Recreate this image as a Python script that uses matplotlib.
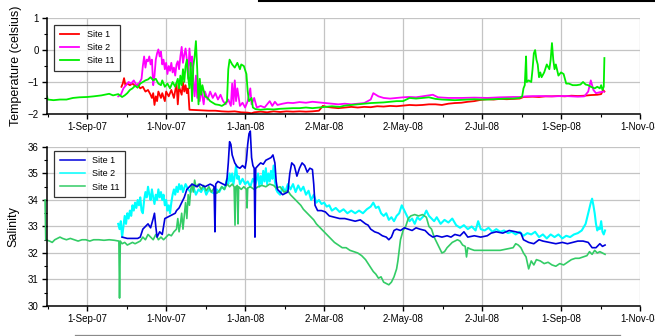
import numpy as np
import pandas as pd
import matplotlib
matplotlib.use("Agg")
import matplotlib.pyplot as plt
import matplotlib.dates as mdates
from matplotlib.lines import Line2D

plt.rcParams["font.family"] = ["Liberation Sans", "DejaVu Sans"]

start = pd.Timestamp("2007-08-01")

# ---- temperature (days since 1-Aug-07, value) ----
t1_day = [57.5, 58.5, 59.5, 60.5, 62, 64, 66, 68, 70, 72, 74, 76, 78, 80, 81, 82, 83, 84, 85, 86,
          88, 89, 91, 92, 94, 96, 98, 100, 101, 102, 104, 105, 106, 107, 108, 109, 110, 115, 120,
          125, 130, 135, 140, 145, 150, 155, 158, 160, 165, 170, 175, 180, 185, 190, 195, 200, 205,
          210, 213, 216, 220, 225, 230, 235, 240, 245, 250, 255, 260, 265, 270, 275, 280, 285, 290,
          295, 300, 305, 310, 315, 320, 325, 330, 335, 340, 345, 350, 355, 360, 365, 368, 375, 380,
          385, 390, 395, 400, 405, 410, 415, 420, 425, 428, 429.5, 430.5]
t1_val = [-1.15, -1.05, -0.88, -1.1, -1.05, -1.1, -1.05, -1.12, -1.08, -1.2, -1.15, -1.3, -1.25,
          -1.4, -1.5, -1.35, -1.72, -1.45, -1.6, -1.3, -1.5, -1.35, -1.6, -1.3, -1.45, -1.25, -1.5,
          -1.05, -1.7, -1.15, -1.4, -1.0, -1.3, -1.1, -1.35, -1.2, -1.87, -1.88, -1.89, -1.9, -1.9,
          -1.92, -1.93, -1.92, -1.95, -1.96, -1.98, -1.95, -1.93, -1.95, -1.92, -1.94, -1.92, -1.93,
          -1.92, -1.93, -1.92, -1.9, -1.75, -1.78, -1.8, -1.82, -1.8, -1.78, -1.8, -1.78, -1.79,
          -1.76, -1.77, -1.75, -1.76, -1.74, -1.72, -1.73, -1.72, -1.7, -1.7, -1.72, -1.68, -1.66,
          -1.65, -1.62, -1.6, -1.56, -1.54, -1.55, -1.53, -1.54, -1.53, -1.52, -1.47, -1.46, -1.47,
          -1.45, -1.45, -1.44, -1.45, -1.43, -1.44, -1.43, -1.41, -1.4, -1.38, -1.25, -1.3]

t2_day = [55, 57, 59, 61, 63, 65, 67, 69, 71, 73, 74, 75, 76, 77, 78, 79, 80, 81, 82, 83, 84, 85,
          86, 87, 88, 89, 90, 91, 92, 93, 94, 95, 96, 97, 98, 99, 100, 101, 102, 103, 104, 105, 106,
          107, 108, 109, 110, 111, 112, 113, 114, 115, 116, 117, 118, 119, 121, 122, 124, 126, 128,
          130, 132, 134, 136, 138, 140, 142, 143, 144, 145, 146, 147, 149, 151, 153, 155, 157, 158,
          160, 162, 165, 168, 170, 172, 174, 176, 178, 182, 186, 190, 195, 200, 205, 210, 215, 220,
          225, 230, 235, 240, 245, 250, 252, 254, 256, 260, 265, 270, 275, 280, 285, 290, 295, 298,
          302, 310, 320, 330, 340, 350, 360, 365, 370, 380, 390, 400, 410, 415, 418, 420, 422, 424,
          427, 430]
t2_val = [-1.45, -1.4, -1.2, -1.1, -1.0, -1.05, -0.95, -1.1, -1.05, -0.9, -0.5, -0.2, -0.55, -0.3,
          -0.35, -0.2, -0.45, -0.3, -1.1, -0.8, -0.3, -0.1, 0.02, -0.2, -0.05, -0.45, -0.3, -0.6,
          -0.4, -0.75, -0.5, -0.65, -0.4, -0.7, -0.55, -0.8, -0.45, -0.35, -0.6, -0.2, 0.1, -0.4,
          -0.15, 0.05, -0.3, -0.9, 0.05, -0.5, -0.2, -1.0, -1.45, -0.8, -1.5, -1.1, -1.6, -1.2,
          -1.7, -1.3, -1.55, -1.3, -1.5, -1.35, -1.55, -1.4, -1.6, -1.7, -1.55, -1.75, -1.05, -1.7,
          -0.95, -1.6, -1.2, -1.75, -1.65, -1.8, -1.6, -1.2, -1.7, -1.5, -1.8, -1.75, -1.8, -1.7,
          -1.6, -1.75, -1.62, -1.72, -1.68, -1.65, -1.66, -1.63, -1.65, -1.62, -1.64, -1.66, -1.68,
          -1.7, -1.68, -1.7, -1.68, -1.66, -1.55, -1.35, -1.4, -1.45, -1.5, -1.52, -1.5, -1.48,
          -1.47, -1.48, -1.45, -1.42, -1.4, -1.48, -1.5, -1.5, -1.49, -1.5, -1.48, -1.47, -1.47,
          -1.45, -1.44, -1.45, -1.44, -1.46, -1.45, -1.3, -0.95, -1.25, -1.35, -1.32, -1.3]

t11_day = [0, 0.5, 5, 10, 15, 20, 25, 31, 36, 42, 48, 51, 55, 58, 60, 62, 64, 66, 68, 70, 72, 74,
           76, 78, 80, 82, 84, 86, 88, 89, 91, 93, 95, 97, 99, 101, 102, 103, 104, 105, 106, 107,
           108, 109, 110, 111, 112, 113, 114, 115, 116, 117, 118, 119, 120, 122, 124, 126, 128,
           130, 133, 135, 137, 139, 140, 141, 143, 145, 147, 149, 150, 152, 154, 155, 156, 158,
           159, 161, 165, 170, 175, 180, 185, 190, 195, 200, 205, 210, 215, 220, 226, 230, 235,
           240, 245, 250, 255, 260, 265, 270, 275, 280, 285, 290, 295, 300, 305, 310, 315, 320,
           325, 330, 335, 340, 345, 350, 355, 360, 365, 367, 368, 369, 370, 370.5, 372, 374, 375,
           376, 377, 378, 379, 380, 381, 382, 384, 386, 388, 389, 390, 391, 392, 393, 395, 397,
           399, 401, 403, 406, 409, 412, 414, 416, 418, 420, 423, 425, 427, 428, 429, 430, 430.5]
t11_val = [-1.45, -1.55, -1.57, -1.55, -1.55, -1.5, -1.48, -1.47, -1.45, -1.42, -1.37, -1.42,
           -1.38, -1.47, -1.42, -1.35, -1.25, -1.2, -1.12, -1.18, -1.05, -1.0, -0.95, -0.92, -0.85,
           -0.95, -0.9, -1.05, -1.1, -0.95, -1.15, -1.05, -1.2, -1.0, -1.15, -0.9, -1.2, -0.8,
           -1.1, -0.6, -1.0, -0.5, -0.3, -0.85, -1.2, -0.4, -1.6, -0.5, -0.2, 0.28, -0.6, -1.7,
           -0.9, -1.4, -1.1, -1.45, -1.5, -1.6, -1.65, -1.7, -1.72, -1.75, -1.7, -1.6, -0.6, -0.3,
           -0.45, -0.55, -0.4, -0.6, -0.45, -0.5, -0.75, -1.3, -1.6, -1.5, -1.8, -1.85, -1.87,
           -1.85, -1.86, -1.84, -1.83, -1.82, -1.82, -1.8, -1.82, -1.8, -1.78, -1.76, -1.78, -1.74,
           -1.72, -1.7, -1.68, -1.66, -1.65, -1.64, -1.62, -1.6, -1.6, -1.5, -1.52, -1.5, -1.48,
           -1.53, -1.55, -1.56, -1.57, -1.56, -1.55, -1.54, -1.55, -1.55, -1.54, -1.53, -1.52,
           -1.52, -1.5, -1.45, -1.2, -1.1, -0.2, -1.0, -0.95, -1.0, -0.6, -0.1, 0.0, -0.3, -0.45,
           -0.85, -0.7, -0.85, -0.7, -0.45, -0.6, -0.3, 0.22, -0.3, -0.6, -0.45, -0.8, -0.7,
           -0.75, -1.05, -1.05, -1.1, -1.1, -1.08, -1.0, -1.08, -1.1, -1.15, -1.2, -1.15, -1.2,
           -1.1, -1.25, -1.15, -0.25]

# ---- salinity ----
s1_day = [58, 62, 66, 70, 72, 74, 76, 78, 80, 82, 83, 84, 85, 87, 89, 91, 93, 95, 97, 99, 100, 102,
          104, 106, 108, 110, 112, 114, 116, 118, 120, 122, 124, 126, 128, 129, 129.7, 130.3, 132,
          134, 136, 138, 139, 140, 141, 142, 143, 145, 147, 149, 151, 153, 154, 155, 156, 157, 158,
          159, 160, 160.6, 161.2, 163, 165, 167, 169, 171, 173, 174.5, 176, 177, 178, 180, 182,
          184, 186, 187.5, 189, 191, 193, 195, 197, 199, 201, 203, 205, 206, 207, 209, 212, 215,
          218, 222, 226, 230, 234, 238, 242, 246, 248, 250, 253, 256, 259, 262, 264, 266, 268, 270,
          273, 276, 279, 282, 285, 288, 292, 295, 298, 301, 305, 309, 312, 315, 319, 322, 325, 330,
          335, 340, 343, 347, 352, 357, 362, 366, 368, 372, 376, 380, 383, 388, 393, 398, 402, 406,
          410, 414, 418, 421, 424, 427, 429, 431]
s1_val = [32.6, 32.55, 32.55, 32.55, 32.6, 32.9, 33.0, 33.1, 32.95, 33.3, 33.5, 33.0, 32.6, 32.8,
          32.7, 33.3, 33.35, 33.4, 33.45, 33.5, 33.6, 33.7, 33.9, 34.1, 34.4, 34.5, 34.6, 34.55,
          34.5, 34.6, 34.55, 34.5, 34.55, 34.6, 34.55, 34.5, 32.8, 34.6, 34.7, 34.65, 34.6, 34.55,
          34.8, 35.4, 36.2, 36.1, 35.7, 35.4, 35.25, 35.2, 35.3, 35.2, 35.5, 36.1, 36.5, 36.6,
          35.6, 35.3, 35.2, 32.6, 35.2, 35.3, 35.4, 35.35, 35.5, 35.55, 35.6, 35.7, 35.4, 34.7,
          34.4, 34.3, 34.2, 34.25, 34.3, 35.0, 35.4, 35.3, 34.9, 35.2, 35.4, 35.3, 35.05, 35.2,
          35.15, 34.6, 33.8, 33.6, 33.6, 33.55, 33.4, 33.35, 33.3, 33.3, 33.25, 33.2, 33.25, 33.1,
          33.05, 32.9, 32.8, 32.75, 32.65, 32.6, 32.5, 32.6, 32.85, 32.9, 32.85, 32.95, 32.9,
          32.85, 32.95, 32.9, 32.85, 32.7, 32.6, 32.65, 32.6, 32.65, 32.6, 32.7, 32.65, 32.8, 32.6,
          32.65, 32.6, 32.65, 32.75, 32.8, 32.75, 32.85, 32.8, 32.75, 32.5, 32.4, 32.35, 32.5,
          32.45, 32.4, 32.35, 32.4, 32.35, 32.4, 32.45, 32.45, 32.4, 32.2, 32.2, 32.35, 32.25,
          32.3]

s2_day = [55, 56, 57, 58, 59, 60, 61, 62, 63, 64, 65, 66, 67, 68, 69, 70, 71, 72, 73, 74, 75, 76,
          77, 78, 79, 80, 81, 82, 83, 84, 85, 86, 87, 88, 89, 90, 91, 92, 93, 94, 95, 96, 97, 98,
          99, 100, 101, 102, 103, 104, 105, 107, 109, 111, 113, 115, 117, 119, 121, 123, 125, 127,
          129, 131, 133, 135, 137, 139, 140, 141, 142, 143, 144, 145, 146, 147, 148, 149, 151,
          153, 155, 157, 159, 161, 163, 164, 165, 166, 167, 168, 169, 170, 171, 172, 173, 174,
          175, 176, 177, 178, 180, 182, 184, 186, 188, 190, 192, 194, 196, 198, 200, 202, 204,
          206, 208, 210, 212, 214, 216, 218, 220, 223, 226, 229, 232, 235, 238, 241, 244, 247,
          250, 252, 254, 256, 258, 260, 262, 264, 266, 268, 270, 272, 274, 276, 278, 280, 282,
          284, 286, 288, 291, 293, 295, 297, 299, 301, 304, 307, 310, 313, 316, 319, 322, 325,
          328, 331, 333, 335, 338, 341, 344, 347, 350, 353, 356, 359, 362, 365, 368, 371, 374,
          377, 380, 383, 386, 389, 392, 395, 398, 401, 404, 407, 410, 413, 416, 418, 420, 421,
          422, 423, 424, 425, 426, 427, 428, 429, 430, 431]
s2_val = [33.1, 32.9, 33.2, 32.6, 33.0, 33.4, 33.1, 33.5, 33.3, 33.6, 33.4, 33.8, 33.6, 33.9,
          33.7, 34.0, 33.8, 34.1, 33.6, 33.5, 34.0, 34.3, 34.1, 34.5, 34.2, 34.0, 34.4, 34.1,
          33.85, 34.2, 34.0, 34.4, 34.1, 34.3, 34.0, 34.2, 33.8, 34.0, 33.6, 33.8, 33.5, 33.9,
          34.2, 34.4, 34.2, 34.5, 34.3, 34.6, 34.4, 34.55, 34.3, 34.6, 34.4, 34.3, 34.5, 34.2,
          34.4, 34.3, 34.5, 34.2, 34.4, 34.3, 34.25, 34.4, 34.3, 34.5, 34.4, 34.8, 34.6, 35.0,
          34.7, 35.0, 34.6, 34.9, 35.3, 34.8, 34.9, 34.6, 34.8, 34.6, 34.7, 34.5, 34.8, 34.6,
          35.0, 34.5, 34.9, 34.6, 35.1, 34.7, 35.2, 34.6, 35.0, 34.7, 35.1, 34.8, 35.3, 34.7,
          34.4, 34.3, 34.2, 34.5, 34.3, 34.6, 34.4, 34.6, 34.3, 34.55, 34.35, 34.5, 34.2, 34.35,
          34.0, 34.2, 33.9, 34.0, 33.85, 33.9, 33.75, 33.8, 33.6, 33.7, 33.55, 33.65, 33.5,
          33.6, 33.5, 33.6, 33.5, 33.65, 33.75, 33.9, 33.7, 33.75, 33.5, 33.4, 33.5, 33.25,
          33.35, 33.2, 33.4, 33.5, 33.8, 33.6, 33.4, 33.2, 33.3, 33.1, 33.35, 33.25, 33.4, 33.6,
          33.4, 33.3, 33.2, 33.35, 33.1, 33.25, 33.15, 33.3, 33.05, 32.95, 33.05, 32.9, 33.0,
          32.85, 33.2, 32.9, 32.85, 32.95, 32.8, 32.9, 32.8, 32.85, 32.75, 32.8, 32.7, 32.8,
          32.65, 32.75, 32.7, 32.8, 32.6, 32.7, 32.55, 32.7, 32.6, 32.7, 32.55, 32.65, 32.6,
          32.7, 32.75, 32.85, 33.1, 33.5, 33.9, 34.05, 33.8, 33.5, 33.1, 32.85, 32.95, 32.9,
          33.2, 32.8, 32.7, 32.85]

# site 11 salinity as (day, value) pairs
s11_pts = [
    (-1.5, 34.0), (-1, 32.5), (2, 32.45), (4, 32.4), (6, 32.5), (8, 32.55), (10, 32.6),
    (12, 32.55), (15, 32.5), (18, 32.55), (21, 32.5), (24, 32.45), (27, 32.5), (30, 32.5),
    (33, 32.45), (36, 32.5), (40, 32.5), (44, 32.48), (48, 32.5), (52, 32.48), (55.5, 32.45),
    (56, 30.3), (56.6, 32.45), (58, 32.35), (60, 32.4), (62, 32.3), (64, 32.35), (66, 32.4),
    (68, 32.35), (70, 32.4), (72, 32.45), (74, 32.6), (76, 32.5), (78, 32.7), (80, 32.6),
    (82, 32.5), (84, 32.7), (86, 32.5), (88, 32.6), (90, 32.5), (92, 32.6), (94, 32.7),
    (96, 32.65), (98, 32.8), (100, 32.9), (101, 33.3), (102, 32.8), (103, 33.1), (104, 33.5),
    (105, 32.9), (106, 33.4), (107, 33.9), (108, 33.3), (109, 34.2), (110, 33.8), (111, 34.4),
    (112, 34.6), (113, 34.3), (114, 34.75), (115, 34.5), (117, 34.6), (119, 34.4),
    (121, 34.55), (123, 34.35), (125, 34.5), (127, 34.3), (129, 34.45), (131, 34.25),
    (133, 34.35), (135, 34.5), (137, 34.4), (139, 34.6), (141, 34.5), (143, 34.6),
    (144.5, 34.5), (145.2, 33.05), (145.8, 34.5), (147, 34.55), (147.5, 33.1), (148, 34.5),
    (150, 34.4), (152, 34.5), (154, 34.4), (154.5, 33.7), (155, 34.45), (157, 34.5),
    (160, 34.4), (163, 34.5), (166, 34.55), (169, 34.5), (172, 34.6), (175, 34.55),
    (177, 34.45), (180, 34.5), (183, 34.3), (186, 34.35), (188, 34.2), (190, 34.1),
    (192, 34.0), (194, 33.9), (196, 33.8), (198, 33.65), (200, 33.55), (202, 33.45),
    (204, 33.35), (206, 33.25), (208, 33.1), (210, 33.0), (212, 32.9), (214, 32.8),
    (216, 32.7), (218, 32.6), (220, 32.5), (222, 32.4), (225, 32.3), (228, 32.2), (231, 32.2),
    (234, 32.1), (237, 32.05), (240, 32.0), (243, 31.9), (246, 31.75), (248, 31.6),
    (250, 31.45), (252, 31.3), (254, 31.2), (256, 31.05), (258, 31.1), (260, 30.9),
    (262, 30.85), (264, 30.8), (266, 30.9), (268, 31.1), (270, 31.4), (271, 31.7), (272, 32.1),
    (273, 32.5), (275, 32.85), (277, 33.0), (279, 33.3), (281, 33.4), (284, 33.45),
    (287, 33.4), (290, 33.45), (293, 33.35), (295, 33.0), (297, 32.9), (299, 32.6),
    (301, 32.4), (303, 32.2), (305, 32.0), (307, 32.05), (309, 32.2), (311, 32.3), (313, 32.4),
    (315, 32.45), (317, 32.5), (319, 32.45), (321, 32.3), (323, 32.25), (324, 31.85),
    (325, 32.2), (327, 32.15), (330, 32.1), (335, 32.1), (340, 32.1), (345, 32.1), (350, 32.1),
    (355, 32.15), (360, 32.2), (362, 32.35), (364, 32.3), (366, 32.2), (368, 32.0),
    (370, 31.85), (372, 31.4), (374, 31.7), (376, 31.55), (378, 31.75), (381, 31.7),
    (384, 31.6), (387, 31.65), (390, 31.55), (393, 31.5), (396, 31.6), (399, 31.55),
    (402, 31.65), (405, 31.75), (408, 31.8), (411, 31.8), (414, 31.85), (417, 31.9),
    (419, 32.05), (421, 31.95), (423, 32.1), (425, 32.0), (427, 32.05), (429, 32.0),
    (431, 31.95),
]
s11_day = [p[0] for p in s11_pts]
s11_val = [p[1] for p in s11_pts]

major_dates = ["2007-09-01", "2007-11-01", "2008-01-01", "2008-03-02",
               "2008-05-02", "2008-07-02", "2008-09-01", "2008-11-01"]


def to_dates(days):
    return start + pd.to_timedelta(np.array(days, dtype=float), unit="D")


fig = plt.figure(figsize=(6.55, 3.36), dpi=100)
ax1 = fig.add_axes([0.0718, 0.661, 0.9053, 0.285])
ax2 = fig.add_axes([0.0718, 0.0893, 0.9053, 0.4732])

major = pd.to_datetime(major_dates)
minor = major[:-1] + (major[1:] - major[:-1]) / 2
minor = minor.append(pd.DatetimeIndex([major[0] - (major[1] - major[0]) / 2]))

for ax in (ax1, ax2):
    ax.set_xlim(start, pd.Timestamp("2008-11-01"))
    ax.set_xticks(major)
    ax.set_xticks(minor, minor=True)
    ax.xaxis.set_major_formatter(mdates.DateFormatter("%-d-%b-%y"))
    ax.grid(True, which="major", color="#c4c4c4", lw=0.9)
    ax.set_axisbelow(True)
    for s in ("top", "right"):
        ax.spines[s].set_visible(False)
    for s in ("left", "bottom"):
        ax.spines[s].set_linewidth(1.1)
    ax.tick_params(which="major", direction="out", length=3.5, width=1, labelsize=7, pad=2.5)
    ax.tick_params(which="minor", direction="out", length=2, width=0.8)

# top panel
ax1.plot(to_dates(t1_day), t1_val, color="#ff0000", lw=1.3, label="Site 1")
ax1.plot(to_dates(t2_day), t2_val, color="#ff00ff", lw=1.3, label="Site 2")
ax1.plot(to_dates(t11_day), t11_val, color="#00ee00", lw=1.3, label="Site 11")
ax1.set_ylim(-2, 1)
ax1.set_yticks([-2, -1, 0, 1])
ax1.set_yticks([-1.5, -0.5, 0.5], minor=True)
ax1.set_ylabel("Temperature (celsius)", fontsize=9, labelpad=4)
leg1 = ax1.legend(loc="upper left", bbox_to_anchor=(0.012, 0.93), fontsize=6.5, frameon=True,
                  fancybox=False, edgecolor="black", handlelength=2.2, labelspacing=0.45,
                  borderpad=0.6, borderaxespad=0)
leg1.get_frame().set_linewidth(0.9)

# bottom panel
l2, = ax2.plot(to_dates(s2_day), s2_val, color="#00ffff", lw=1.5, clip_on=False, label="Site 2")
l11, = ax2.plot(to_dates(s11_day), s11_val, color="#33cc66", lw=1.2, clip_on=False, label="Site 11")
l1, = ax2.plot(to_dates(s1_day), s1_val, color="#0000dd", lw=1.2, clip_on=False, label="Site 1")
ax2.set_ylim(30, 36)
ax2.set_yticks(np.arange(30, 37))
ax2.set_yticks(np.arange(30.5, 36, 1.0), minor=True)
ax2.set_ylabel("Salinity", fontsize=9, labelpad=6)
leg2 = ax2.legend(handles=[l1, l2, l11], loc="upper left", bbox_to_anchor=(0.012, 0.975),
                  fontsize=6.5, frameon=True, fancybox=False, edgecolor="black",
                  handlelength=2.8, labelspacing=0.45, borderpad=0.6, borderaxespad=0)
leg2.get_frame().set_linewidth(0.9)
for h in leg2.get_lines():
    h.set_linewidth(1.1)

# fragments of neighbouring frames
fig.add_artist(Line2D([259 / 655, 1.0], [0.998, 0.998], color="black", lw=1.5))
fig.add_artist(Line2D([75 / 655, 620 / 655], [1 - 335 / 336, 1 - 335 / 336], color="#8a8a8a", lw=0.9))

fig.savefig("out.png", dpi=100)
